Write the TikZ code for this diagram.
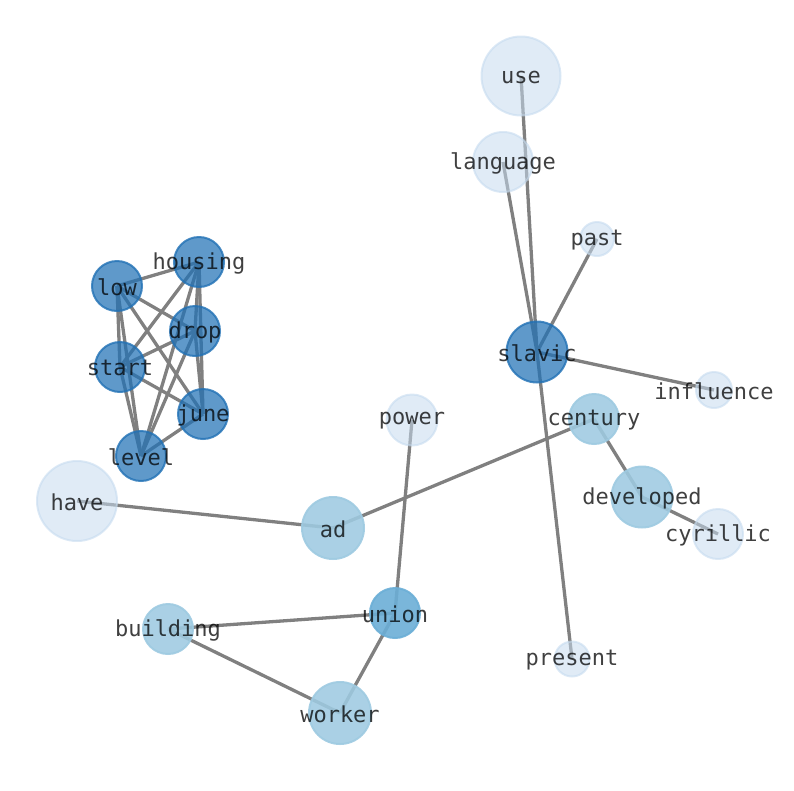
\documentclass[tikz,border=0pt]{standalone}
\usepackage{fontspec}
\newfontfamily\wordfont{DejaVu Sans Mono}
\usetikzlibrary{backgrounds}
\definecolor{b1}{HTML}{2171B5}
\definecolor{b2}{HTML}{6BAED6}
\definecolor{b3}{HTML}{9ECAE1}
\definecolor{b4}{HTML}{C6DBEF}
\definecolor{g1}{HTML}{808080}
\tikzset{
	dark/.style={circle, inner sep=0pt, fill=b1, draw=b1, fill opacity=0.72, draw opacity=0.8, line width=2pt},
	mid/.style={circle, inner sep=0pt, fill=b2, draw=b2, fill opacity=0.9, draw opacity=0.9, line width=2pt},
	light/.style={circle, inner sep=0pt, fill=b3, draw=b3, fill opacity=0.88, draw opacity=0.9, line width=2pt},
	pale/.style={circle, inner sep=0pt, fill=b4, draw=b4, fill opacity=0.55, draw opacity=0.6, line width=2pt},
	wordlabel/.style={font=\wordfont\fontsize{22}{22}\selectfont, text=black, text opacity=0.75, inner sep=0pt, yshift=-1pt},
	link/.style={draw=g1, line width=3.3pt}
}

\begin{document}
\begin{tikzpicture}[x=1pt, y=-1pt]
	\useasboundingbox (0,0) rectangle (794,790);
	% cluster on the left
	\node[dark, minimum size=50pt, label={[wordlabel]center:low}] (low) at (117,286) {};
	\node[dark, minimum size=50pt, label={[wordlabel]center:housing}] (housing) at (199,262) {};
	\node[dark, minimum size=50pt, label={[wordlabel]center:drop}] (drop) at (195,331) {};
	\node[dark, minimum size=50pt, label={[wordlabel]center:start}] (start) at (120,367) {};
	\node[dark, minimum size=50pt, label={[wordlabel]center:june}] (june) at (203,414) {};
	\node[dark, minimum size=50pt, label={[wordlabel]center:level}] (level) at (141,456) {};
	% slavic and its neighbours
	\node[pale, minimum size=79pt, label={[wordlabel]center:use}] (use) at (521,76) {};
	\node[pale, minimum size=60pt, label={[wordlabel]center:language}] (language) at (503,162) {};
	\node[pale, minimum size=34pt, label={[wordlabel]center:past}] (past) at (597,239) {};
	\node[dark, minimum size=61pt, label={[wordlabel]center:slavic}] (slavic) at (537,352) {};
	\node[pale, minimum size=36pt, label={[wordlabel]center:influence}] (influence) at (714,390) {};
	\node[pale, minimum size=35pt, label={[wordlabel]center:present}] (present) at (572,659) {};
	% century chain
	\node[light, minimum size=50pt, label={[wordlabel]center:century}] (century) at (594,419) {};
	\node[light, minimum size=61pt, label={[wordlabel]center:developed}] (developed) at (642,497) {};
	\node[pale, minimum size=50pt, label={[wordlabel]center:cyrillic}] (cyrillic) at (718,534) {};
	\node[light, minimum size=62pt, label={[wordlabel]center:ad}] (ad) at (333,528) {};
	\node[pale, minimum size=80pt, label={[wordlabel]center:have}] (have) at (77,501) {};
	% union group
	\node[pale, minimum size=51pt, label={[wordlabel]center:power}] (power) at (412,420) {};
	\node[mid, minimum size=50pt, label={[wordlabel]center:union}] (union) at (395,613) {};
	\node[light, minimum size=50pt, label={[wordlabel]center:building}] (building) at (168,629) {};
	\node[light, minimum size=62pt, label={[wordlabel]center:worker}] (worker) at (340,713) {};

	\begin{scope}[on background layer]
	\foreach \a/\b in {low/housing, low/drop, low/start, low/june, low/level,
		housing/drop, housing/start, housing/june, housing/level,
		drop/start, drop/june, drop/level, start/june, start/level, june/level}
		\draw [link] (\a.center) -- (\b.center);
	\foreach \a/\b in {use/slavic, language/slavic, past/slavic, slavic/influence, slavic/present,
		century/ad, century/developed, developed/cyrillic, have/ad,
		power/union, union/building, union/worker, building/worker}
		\draw [link] (\a.center) -- (\b.center);
	\end{scope}
\end{tikzpicture}
\end{document}
